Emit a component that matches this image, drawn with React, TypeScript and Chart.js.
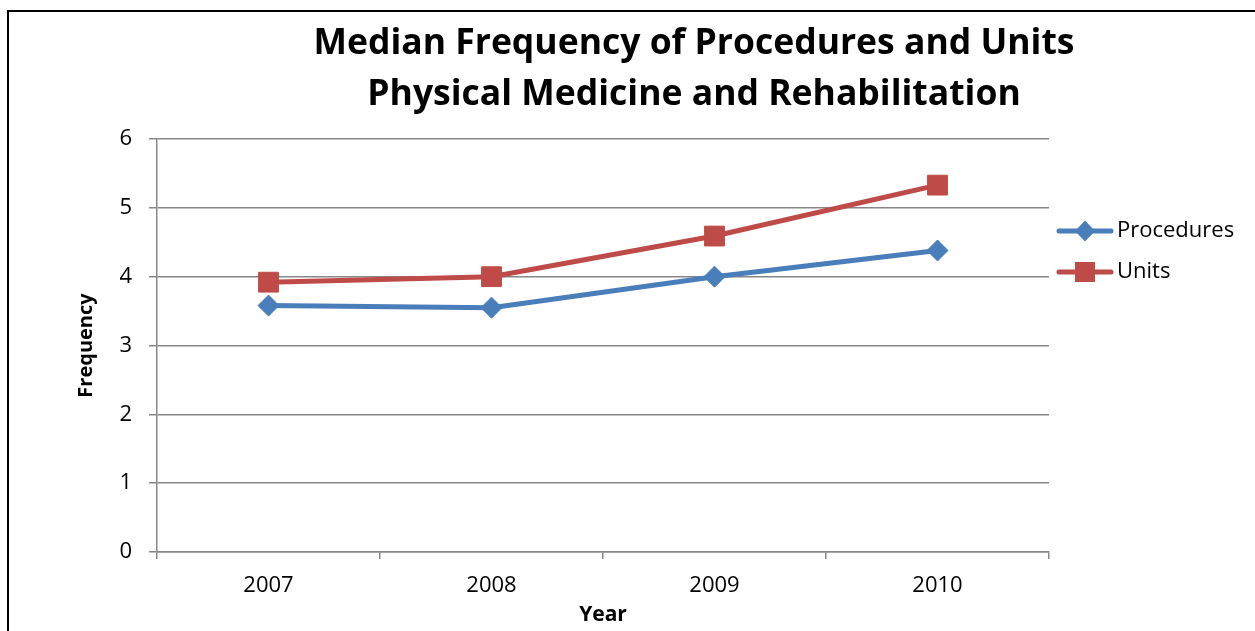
import React, { useEffect, useRef } from "react";
import { Chart, registerables } from "chart.js";

Chart.register(...registerables);

const years = ["2007", "2008", "2009", "2010"];
const procedures = [3.58, 3.55, 4.0, 4.38];
const units = [3.92, 4.0, 4.59, 5.33];
const titleLines = ["Median Frequency of Procedures and Units", "Physical Medicine and Rehabilitation"];
const seriesNames = ["Procedures", "Units"];

const BLUE = "#4A7EBB";
const RED = "#BE4B48";
const GRID = "#878787";
const FONT = "'Open Sans', sans-serif";

const decorPlugin = {
  id: "decor",
  afterDraw(chart: any) {
    const ctx = chart.ctx;
    ctx.save();
    // outer frame (top + left edges visible)
    ctx.fillStyle = "#000";
    ctx.fillRect(7, 10, 1248, 2);
    ctx.fillRect(7, 10, 2, 621);
    // title
    ctx.fillStyle = "#000";
    ctx.font = `bold 35.5px ${FONT}`;
    ctx.textAlign = "center";
    ctx.textBaseline = "middle";
    ctx.fillText(titleLines[0], 694, 44);
    ctx.fillText(titleLines[1], 694, 95);
    // legend
    const items = [
      { label: seriesNames[0], color: BLUE, style: "diamond", y: 231 },
      { label: seriesNames[1], color: RED, style: "square", y: 272 },
    ];
    items.forEach((it) => {
      ctx.strokeStyle = it.color;
      ctx.lineWidth = 5;
      ctx.lineCap = "round";
      ctx.beginPath();
      ctx.moveTo(1059, it.y);
      ctx.lineTo(1111, it.y);
      ctx.stroke();
      ctx.fillStyle = it.color;
      const cx = 1085;
      ctx.beginPath();
      if (it.style === "diamond") {
        ctx.moveTo(cx, it.y - 10.5);
        ctx.lineTo(cx + 10, it.y);
        ctx.lineTo(cx, it.y + 10.5);
        ctx.lineTo(cx - 10, it.y);
        ctx.closePath();
      } else {
        ctx.rect(cx - 10, it.y - 10, 20, 20);
      }
      ctx.fill();
      ctx.fillStyle = "#000";
      ctx.font = `22px ${FONT}`;
      ctx.textAlign = "left";
      ctx.textBaseline = "middle";
      ctx.fillText(it.label, 1117, it.y);
    });
    ctx.restore();
  },
};

export default function App() {
  const ref = useRef<HTMLCanvasElement>(null);
  useEffect(() => {
    document.body.style.margin = "0";
    const chart = new Chart(ref.current!, {
      type: "line",
      data: {
        labels: years,
        datasets: [
          {
            label: seriesNames[0],
            data: procedures,
            borderColor: BLUE,
            backgroundColor: BLUE,
            borderWidth: 5,
            pointStyle: "rectRot",
            pointRadius: 10.5,
            pointBorderWidth: 1,
            tension: 0,
          },
          {
            label: seriesNames[1],
            data: units,
            borderColor: RED,
            backgroundColor: RED,
            borderWidth: 5,
            pointStyle: "rect",
            pointRadius: 14,
            pointBorderWidth: 1,
            tension: 0,
          },
        ],
      },
      options: {
        responsive: false,
        animation: false,
        layout: { padding: { top: 139, right: 206, left: 0, bottom: 0 } },
        plugins: {
          legend: { display: false },
          title: { display: false },
          tooltip: { enabled: false },
        },
        scales: {
          x: {
            type: "category",
            offset: true,
            grid: { display: true, drawOnChartArea: false, drawTicks: true, tickLength: 7, offset: true, color: GRID, lineWidth: 1.5 },
            border: { color: GRID, width: 1.5 },
            ticks: { color: "#000", font: { family: FONT, size: 22 }, padding: 14, maxRotation: 0 },
            title: { display: true, text: "Year", color: "#000", font: { family: FONT, size: 21, weight: "bold" }, padding: { top: 0, bottom: 3 } },
            afterFit(scale: any) {
              scale.height = 79;
            },
          },
          y: {
            min: 0,
            max: 6,
            ticks: { stepSize: 1, color: "#000", font: { family: FONT, size: 22 }, padding: 17 },
            grid: { color: GRID, lineWidth: 1.5, tickLength: 8, drawTicks: true },
            border: { color: GRID, width: 1.5 },
            title: { display: true, text: "Frequency", color: "#000", font: { family: FONT, size: 20, weight: "bold" }, padding: { top: 74, bottom: 0 } },
            afterFit(scale: any) {
              scale.width = 157;
            },
          },
        },
      },
      plugins: [decorPlugin],
    } as any);
    return () => chart.destroy();
  }, []);
  return (
    <div style={{ position: "absolute", left: 0, top: 0, width: 1255, height: 631, background: "#fff" }}>
      <canvas ref={ref} width={1255} height={631} style={{ display: "block" }} />
    </div>
  );
}
